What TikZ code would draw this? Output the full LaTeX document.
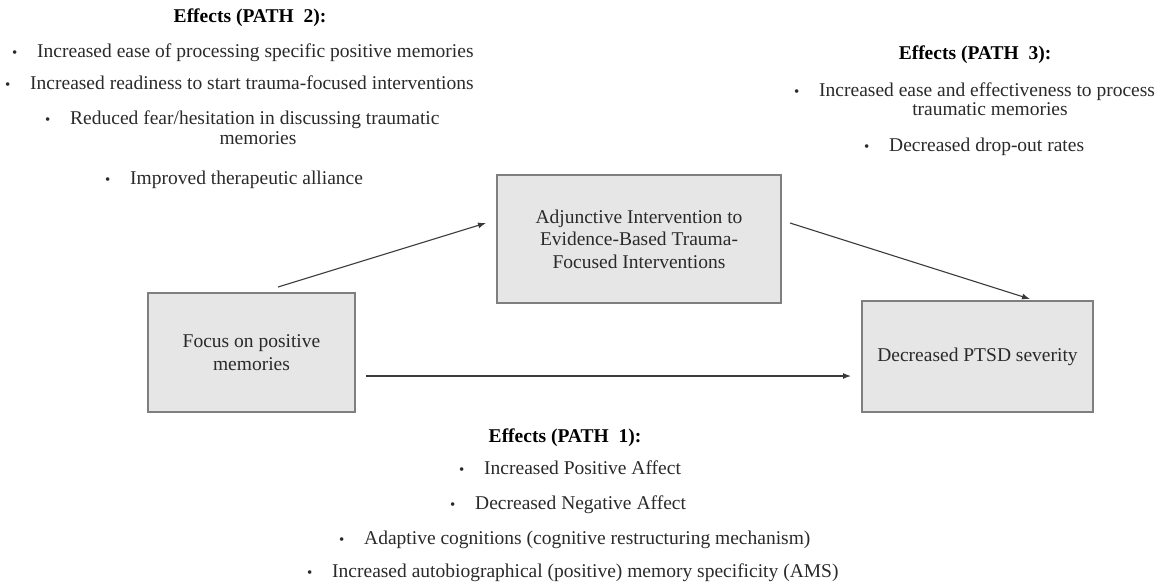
\documentclass[tikz,border=0pt]{standalone}
\usepackage{fontspec}
\setmainfont{Liberation Serif}
\usetikzlibrary{arrows.meta}
\definecolor{boxfill}{HTML}{E6E6E6}
\definecolor{boxline}{HTML}{7F7F7F}
\definecolor{txt}{HTML}{2A2A2A}
\definecolor{arr}{HTML}{3A3A3A}
\newcommand{\bitem}{\makebox[25pt][l]{\raisebox{0pt}{\fontsize{15}{15}\selectfont\textbullet}}}
\begin{document}
\begin{tikzpicture}[x=1pt,y=-1pt,
  font=\fontsize{19.5}{22.5}\selectfont,
  boxnode/.style={draw=boxline, fill=boxfill, line width=1.4pt, align=center, inner sep=0pt, text=txt},
  head/.style={font=\fontsize{19.5}{22}\selectfont\bfseries, inner sep=0pt, text=black},
  item/.style={anchor=west, inner sep=0pt, text height=13pt, text depth=4pt, text=txt},
  cont/.style={inner sep=0pt, text height=13pt, text depth=4pt, text=txt},
  conn/.style={draw=arr, line width=1.1pt, -{Latex[length=8pt,width=6pt]}}]
\useasboundingbox (0,0) rectangle (1173,587);

% boxes
\node[boxnode, minimum width=207pt, minimum height=119pt] (focus) at (251.5,352.5) {Focus on positive\\memories};
\node[boxnode, minimum width=284pt, minimum height=128pt] (adj) at (639,239) {Adjunctive Intervention to\\Evidence-Based Trauma-\\Focused Interventions};
\node[boxnode, minimum width=231pt, minimum height=111pt] (ptsd) at (977.5,356.5) {Decreased PTSD severity};

% arrow end points
\coordinate (a1s) at (278,287);
\coordinate (a1e) at (486,223);
\coordinate (a2s) at (790,223);
\coordinate (a2e) at (1030,299);
\coordinate (a3s) at (366,376);
\coordinate (a3e) at (851,376);
\draw[conn] (a1s) -- (a1e);
\draw[conn] (a2s) -- (a2e);
\draw[conn] (a3s) -- (a3e);

% PATH 2
\node[head] (h2) at (250,18) {Effects (PATH\ \ 2):};
\node[item] (p2a) at (12,53) {\bitem Increased ease of processing specific positive memories};
\node[item] (p2b) at (5,85) {\bitem Increased readiness to start trauma-focused interventions};
\node[item] (p2c) at (45,120) {\bitem Reduced fear/hesitation in discussing traumatic};
\node[cont] (p2cc) at (258,140) {memories};
\node[item] (p2d) at (105,180) {\bitem Improved therapeutic alliance};

% PATH 3
\node[head] (h3) at (975,55) {Effects (PATH\ \ 3):};
\node[item] (p3a) at (794,92) {\bitem Increased ease and effectiveness to process};
\node[cont] (p3ac) at (990,111) {traumatic memories};
\node[item] (p3b) at (864,147) {\bitem Decreased drop-out rates};

% PATH 1
\node[head] (h1) at (565,438) {Effects (PATH\ \ 1):};
\node[item] (p1a) at (459,470) {\bitem Increased Positive Affect};
\node[item] (p1b) at (450,505) {\bitem Decreased Negative Affect};
\node[item] (p1c) at (339,540) {\bitem Adaptive cognitions (cognitive restructuring mechanism)};
\node[item] (p1d) at (307,573) {\bitem Increased autobiographical (positive) memory specificity (AMS)};
\end{tikzpicture}
\end{document}
